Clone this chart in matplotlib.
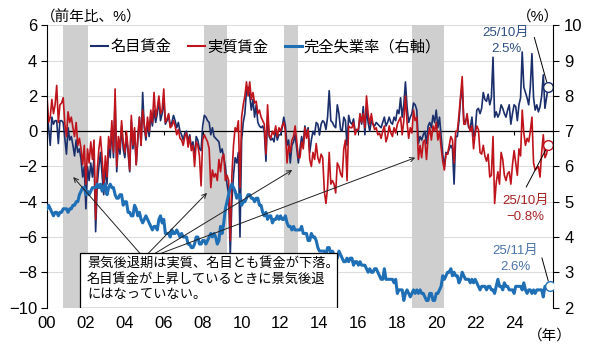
import numpy as np
import matplotlib
matplotlib.use("Agg")
import matplotlib.pyplot as plt
from matplotlib.lines import Line2D
from matplotlib.patches import Rectangle

plt.rcParams["font.family"] = ["Liberation Sans", "Noto Sans CJK JP"]

# monthly, Jan 2000 - Oct 2025 (y/y %)
nominal = [
    1.5, 0.2, -0.8, 0.8, 0.4, 0.6, 0.6, -0.7, 0.6, 0.6, 0.5, -0.4,      # 2000
    -1.3, 0.2, -0.5, -0.3, -0.8, -1.4, -0.5, -1.2, -1.0, -1.6, -2.6, -2.0,  # 2001
    -4.4, -2.0, -2.8, -1.8, -2.6, -1.5, -5.7, -3.0, -2.0, -1.2, -2.5, -3.6,  # 2002
    -2.0, -3.0, -0.8, -1.5, 0.2, -1.5, 1.8, -2.3, -0.6, -1.3, 0.3, -1.0,   # 2003
    -1.5, -0.3, -1.2, -2.3, 0.6, -1.0, 0.0, -1.9, -0.5, 0.8, -0.8, 2.2,    # 2004
    0.2, -0.5, 0.5, -0.3, 0.9, 0.3, 1.2, 0.5, 1.0, 1.8, 0.6, 1.0,          # 2005
    1.8, 0.4, 0.6, 0.9, 0.3, 0.5, 0.9, 0.6, 0.2, 0.5, 0.0, -0.2,           # 2006
    -0.5, -0.1, 0.0, -0.6, -0.2, -0.9, -0.6, -1.5, -0.3, -0.5, -1.0, -1.1,  # 2007
    0.3, 0.9, 0.8, 0.6, 0.5, -0.2, 0.2, -0.3, -0.4, -0.5, -0.6, -1.2,      # 2008
    -1.0, -1.5, -2.0, -3.0, -3.6, -7.0, -4.0, -2.5, -1.5, -1.8, -1.2, -6.0,  # 2009
    -0.5, 0.5, 1.0, 2.3, 2.5, 2.0, 1.2, 1.8, 0.8, 1.5, 0.5, 0.3,           # 2010
    0.2, 0.3, 0.0, -1.7, 0.8, -0.3, -0.5, -0.4, -0.6, 0.1, -0.5, -0.2,     # 2011
    -0.2, 0.2, 0.8, 0.3, -0.8, -0.5, -1.8, -0.8, -0.6, -0.2, -1.0, -1.8,   # 2012
    -1.0, -0.3, -0.8, 0.3, -0.2, 0.2, -1.2, -0.5, 0.0, -0.2, 0.5, 0.4,     # 2013
    -0.2, 0.4, 0.6, 0.5, 0.1, 0.8, 2.3, 0.6, 0.5, 0.3, 0.2, 1.5,           # 2014
    1.0, 0.1, 0.0, 0.8, 0.6, -0.8, 0.9, 0.5, 0.4, 0.7, 0.0, 0.1,           # 2015
    0.0, 0.9, 0.4, 1.4, -0.2, 1.3, 0.5, 0.0, 0.6, 0.4, 0.3, 0.5,           # 2016
    0.4, 0.3, 0.2, 0.5, 0.8, 0.3, 0.5, 0.8, 0.5, 0.4, 0.8, 0.6,            # 2017
    1.2, 1.0, 1.9, 0.8, 1.5, 2.8, 1.4, 0.5, 0.8, 1.0, 1.6, 1.5,            # 2018
    1.2, -0.7, -0.3, -0.5, -0.2, 0.0, -0.7, 0.3, 0.5, 0.2, 0.9, 0.5,       # 2019
    1.2, 0.2, 0.8, -0.3, -1.3, -2.0, -1.2, -1.3, -1.0, -0.8, -1.0, -3.0,   # 2020
    -0.3, -0.3, 0.6, 1.8, 2.6, 0.5, 0.6, 0.8, 0.2, 0.2, 0.8, -0.3,         # 2021
    0.0, 1.2, 1.3, 1.0, 1.3, 2.2, 1.8, 1.7, 2.1, 1.5, 1.9, 4.2,            # 2022
    0.8, 1.1, 0.8, 1.0, 1.5, 1.3, 1.0, 0.8, 1.2, 1.5, 0.4, 1.0,            # 2023
    1.5, 1.4, 0.6, 1.5, 1.9, 4.5, 2.5, 2.2, 1.9, 1.5, 2.5, 4.4,            # 2024
    1.9, 1.2, 1.5, 1.1, 1.4, 2.0, 3.2, 1.3, 1.9, 2.5,                      # 2025
]
real = [
    2.0, 0.5, 0.8, 1.8, 1.0, 1.5, 2.6, 0.5, 1.5, 1.6, 1.9, 0.4,            # 2000
    -0.3, 1.1, 0.5, 0.8, 0.2, -0.3, 0.5, -0.8, -0.4, -1.0, -1.9, -0.8,     # 2001
    -3.0, -1.0, -1.8, -0.6, -1.6, -0.5, -5.0, -2.2, -1.0, -0.3, -1.5, -3.0,  # 2002
    -1.4, -2.6, -0.3, -1.0, 0.6, -1.2, 2.4, -2.0, -0.3, -1.0, 0.6, -0.6,   # 2003
    -1.2, 0.0, -1.0, -2.2, 0.9, -0.8, 0.2, -1.9, -0.3, 0.8, -0.8, 1.2,     # 2004
    0.4, -0.3, 0.8, 0.0, 1.2, 0.5, 2.2, 0.8, 1.3, 2.0, 1.0, 1.2,           # 2005
    2.4, 0.5, 0.7, 1.0, 0.2, 0.3, 0.6, 0.3, -0.2, 0.1, -0.4, -0.5,         # 2006
    -0.8, -0.3, -0.1, -0.9, -0.3, -1.1, -0.8, -2.0, -0.6, -0.8, -1.4, -3.1,  # 2007
    -0.5, -0.2, -0.4, -0.6, -1.0, -3.2, -2.2, -2.6, -2.4, -2.8, -1.6, -2.3,  # 2008
    -1.5, -1.3, -2.8, -2.5, -2.8, -6.2, -2.5, -0.8, 0.2, 0.0, 0.6, -3.2,   # 2009
    0.8, 1.5, 2.0, 2.8, 2.0, 2.8, 1.8, 2.2, 1.6, 1.7, 1.0, 1.2,            # 2010
    0.8, 0.6, 0.4, -1.3, 1.5, -0.2, -0.4, 0.0, -0.2, 0.3, -0.3, 0.2,       # 2011
    0.0, 0.3, 0.5, 0.0, -1.8, -0.8, -1.2, -0.5, -0.3, 0.3, -0.6, -1.5,     # 2012
    -1.5, -0.6, -1.0, 0.2, -0.4, 0.1, -1.6, -2.0, -1.2, -1.6, -0.7, -1.5,  # 2013
    -1.8, -1.3, -1.5, -3.4, -4.1, -3.2, -1.2, -3.0, -2.8, -3.0, -3.5, -1.8,  # 2014
    -2.0, -2.4, -2.6, -1.0, -0.5, -2.8, 0.3, 0.2, 0.2, 0.5, -0.2, 0.1,     # 2015
    0.1, 1.0, 0.5, 1.0, 0.2, 2.0, 1.0, 0.4, 1.0, 0.4, 0.1, 0.2,            # 2016
    -0.2, -0.1, -0.4, 0.0, 0.3, -0.6, -0.3, 0.3, -0.1, -0.3, 0.2, -0.1,    # 2017
    0.4, 0.6, 0.8, -0.2, 0.6, 2.0, 0.5, -0.4, 0.2, -0.1, 1.2, 0.6,         # 2018
    0.8, -1.6, -0.8, -1.5, -0.6, -0.5, -1.6, -0.3, 0.2, -0.5, 0.3, 0.0,    # 2019
    0.5, -0.5, 0.0, -0.9, -1.7, -2.2, -1.3, -1.3, -0.8, -0.3, -0.5, -1.8,  # 2020
    0.0, 0.0, 0.9, 2.0, 3.1, 0.4, 0.4, 1.0, 0.3, 0.0, 0.3, -1.0,           # 2021
    -0.1, 0.3, 0.1, -1.2, -1.3, -0.8, -1.4, -1.7, -1.3, -2.6, -2.5, -0.3,  # 2022
    -4.1, -2.9, -2.3, -3.0, -1.2, -1.6, -2.5, -2.8, -2.4, -2.3, -3.0, -1.9,  # 2023
    -1.1, -1.8, -2.5, -1.0, -1.4, 1.2, -0.1, -0.8, -0.4, -0.6, 0.0, 0.8,   # 2024
    -1.8, -2.2, -2.1, -2.0, -2.6, -1.2, -0.2, -1.5, -1.3, -0.8,            # 2025
]
# monthly, Jan 2000 - Nov 2025 (%)
unemp = [
    4.8, 4.9, 4.8, 4.7, 4.6, 4.7, 4.7, 4.6, 4.7, 4.7, 4.8, 4.8,
    4.8, 4.7, 4.8, 4.8, 4.9, 4.9, 5.0, 5.0, 5.2, 5.3, 5.4, 5.4,
    5.2, 5.3, 5.2, 5.3, 5.4, 5.4, 5.4, 5.5, 5.4, 5.5, 5.3, 5.4,
    5.5, 5.2, 5.4, 5.5, 5.4, 5.4, 5.2, 5.1, 5.1, 5.2, 5.2, 4.9,
    5.0, 5.0, 4.7, 4.7, 4.6, 4.6, 4.9, 4.8, 4.6, 4.7, 4.5, 4.4,
    4.5, 4.6, 4.5, 4.4, 4.3, 4.2, 4.3, 4.3, 4.2, 4.5, 4.6, 4.4,
    4.5, 4.1, 4.1, 4.1, 4.0, 4.2, 4.1, 4.1, 4.2, 4.1, 4.0, 4.1,
    4.0, 4.0, 4.0, 3.8, 3.8, 3.7, 3.7, 3.8, 4.0, 4.0, 3.8, 3.8,
    3.9, 3.9, 3.8, 3.9, 4.0, 4.1, 4.0, 4.1, 4.0, 3.8, 3.9, 4.3,
    4.1, 4.4, 4.8, 5.0, 5.2, 5.4, 5.5, 5.4, 5.3, 5.1, 5.2, 5.2,
    4.9, 5.0, 5.0, 5.1, 5.2, 5.2, 5.1, 5.1, 5.0, 5.1, 5.1, 4.9,
    4.9, 4.7, 4.6, 4.7, 4.5, 4.6, 4.6, 4.4, 4.5, 4.5, 4.6, 4.5,
    4.6, 4.5, 4.5, 4.6, 4.4, 4.3, 4.3, 4.2, 4.3, 4.2, 4.2, 4.2,
    4.2, 4.3, 4.1, 4.1, 4.1, 3.9, 3.9, 4.1, 4.0, 4.0, 3.9, 3.7,
    3.6, 3.6, 3.6, 3.6, 3.5, 3.7, 3.7, 3.5, 3.6, 3.5, 3.5, 3.4,
    3.6, 3.5, 3.4, 3.3, 3.3, 3.4, 3.3, 3.4, 3.4, 3.2, 3.3, 3.3,
    3.2, 3.3, 3.2, 3.2, 3.2, 3.1, 3.0, 3.1, 3.0, 3.0, 3.1, 3.1,
    3.0, 2.9, 2.8, 2.8, 3.1, 2.8, 2.8, 2.8, 2.8, 2.8, 2.7, 2.8,
    2.4, 2.5, 2.5, 2.5, 2.2, 2.4, 2.5, 2.4, 2.3, 2.4, 2.5, 2.4,
    2.5, 2.4, 2.5, 2.4, 2.4, 2.3, 2.2, 2.2, 2.4, 2.4, 2.2, 2.2,
    2.4, 2.4, 2.5, 2.6, 2.9, 2.8, 2.9, 3.0, 3.0, 3.1, 2.9, 3.0,
    2.9, 2.9, 2.7, 2.8, 3.0, 2.9, 2.8, 2.8, 2.8, 2.7, 2.8, 2.7,
    2.8, 2.7, 2.6, 2.5, 2.6, 2.6, 2.6, 2.5, 2.6, 2.6, 2.5, 2.5,
    2.4, 2.6, 2.8, 2.6, 2.6, 2.5, 2.7, 2.6, 2.6, 2.5, 2.5, 2.5,
    2.4, 2.6, 2.6, 2.6, 2.6, 2.5, 2.7, 2.5, 2.4, 2.5, 2.5, 2.4,
    2.5, 2.4, 2.5, 2.5, 2.5, 2.5, 2.3, 2.6, 2.6, 2.6, 2.6,
]
# recession periods (start, end) in years
recessions = [(2000 + 10/12, 2002 + 1/12), (2008 + 1/12, 2009 + 3/12),
              (2012 + 2/12, 2012 + 11/12), (2018 + 9/12, 2020 + 5/12)]
year_ticks = list(range(2000, 2025, 2))
year_labels = [f"{y % 100:02d}" for y in year_ticks]

t_wage = 2000 + np.arange(len(nominal)) / 12
t_unemp = 2000 + np.arange(len(unemp)) / 12

NAVY = "#1a2f6b"
RED = "#c0141c"
BLUE = "#1f6fb6"

fig = plt.figure(figsize=(6, 3.52), dpi=100)
ax = fig.add_axes([0.0783, 0.1264, 0.8434, 0.8012])
ax2 = ax.twinx()

for a, b in recessions:
    ax.axvspan(a, b, color="#cfcfcf", lw=0, zorder=1)
ax.set_axisbelow(True)
ax.yaxis.grid(True, color="#dcdcdc", lw=0.8)
ax.axhline(0, color="black", lw=0.9, zorder=1.5)

ax.plot(t_wage, nominal, color=NAVY, lw=1.2, zorder=2)
ax.plot(t_wage, real, color=RED, lw=1.2, zorder=2.1)
ax.plot(t_wage[-1], nominal[-1], "o", ms=7, mfc="white", mec=NAVY, mew=1.0, zorder=5)
ax.plot(t_wage[-1], real[-1], "o", ms=7, mfc="white", mec=RED, mew=1.0, zorder=5)

ax2.plot(t_unemp, unemp, color=BLUE, lw=2.2, zorder=3)
ax2.plot(t_unemp[-1], unemp[-1], "o", ms=7, mfc="white", mec=BLUE, mew=1.0, zorder=5)

ax.set_xlim(2000, 2026)
ax.set_ylim(-10, 6)
ax2.set_ylim(2, 10)
ax.set_yticks(range(-10, 7, 2))
ax2.set_yticks(range(2, 11))
ax.set_xticks(year_ticks)
ax.set_xticklabels(year_labels)
ax.tick_params(axis="x", length=0, pad=6, labelsize=12)
ax.tick_params(axis="y", length=4, width=0.8, pad=3, labelsize=12)
ax2.tick_params(axis="y", length=4, width=0.8, pad=4, labelsize=12)

for s in ["top", "bottom", "right"]:
    ax.spines[s].set_visible(False)
for s in ["top", "bottom", "left"]:
    ax2.spines[s].set_visible(False)
ax.spines["left"].set_linewidth(0.8)
ax2.spines["right"].set_linewidth(0.8)

# small ticks sitting on the zero line
sec = ax.secondary_xaxis(10 / 16)
sec.set_xticks(year_ticks)
sec.tick_params(axis="x", direction="in", length=3, width=0.8, labelbottom=False, labeltop=False)
sec.spines["bottom"].set_visible(False)
sec.spines["top"].set_visible(False)

handles = [Line2D([], [], color=NAVY, lw=1.5), Line2D([], [], color=RED, lw=1.5),
           Line2D([], [], color=BLUE, lw=2.2)]
ax2.legend(handles, ["名目賃金", "実質賃金", "完全失業率（右軸）"], loc="center left",
           bbox_to_anchor=(0.075, 0.924), ncol=3, frameon=False, fontsize=11,
           handlelength=1.1, handletextpad=0.15, columnspacing=1.1, borderaxespad=0)

ax.text(-0.012, 1.03, "（前年比、%）", transform=ax.transAxes, ha="left", va="center", fontsize=10.5)
ax.text(1.012, 1.03, "（%）", transform=ax.transAxes, ha="right", va="center", fontsize=10.5)
ax.text(0.994, -0.098, "（年）", transform=ax.transAxes, ha="center", va="center", fontsize=10.5)

# end-point labels
ax2.text(0.907, 0.945, "25/10月\n2.5%", transform=ax.transAxes, ha="center", va="center",
         fontsize=9.5, color="#2e4f85", linespacing=1.45, zorder=6)
ax2.annotate("", xy=(t_wage[-1], nominal[-1]), xycoords=ax.transData,
             xytext=(0.963, 0.958), textcoords=ax.transAxes,
             arrowprops=dict(arrowstyle="-", color="black", lw=0.7, shrinkA=0, shrinkB=4))
ax2.text(0.945, 0.349, "25/10月\n−0.8%", transform=ax.transAxes, ha="center", va="center",
         fontsize=9.5, color="#a82323", linespacing=1.45, zorder=6)
ax2.annotate("", xy=(t_wage[-1], real[-1]), xycoords=ax.transData,
             xytext=(0.947, 0.427), textcoords=ax.transAxes,
             arrowprops=dict(arrowstyle="-", color="black", lw=0.7, shrinkA=0, shrinkB=4))
ax2.text(0.925, 0.172, "25/11月\n2.6%", transform=ax.transAxes, ha="center", va="center",
         fontsize=9.5, color="#4a74a8", linespacing=1.45, zorder=6)
ax2.annotate("", xy=(t_unemp[-1], unemp[-1]), xycoords="data",
             xytext=(0.978, 0.176), textcoords=ax.transAxes,
             arrowprops=dict(arrowstyle="-", color="black", lw=0.7, shrinkA=0, shrinkB=4))

# note box with arrows to recession periods
ax2.add_patch(Rectangle((0.0652, 0.0), 0.508, 0.193, transform=ax.transAxes,
                        facecolor="white", edgecolor="black", lw=0.9, zorder=7))
ax2.text(0.079, 0.178, "景気後退期は実質、名目とも賃金が下落。\n名目賃金が上昇しているときに景気後退\nにはなっていない。",
         transform=ax.transAxes, ha="left", va="top", fontsize=9.5, linespacing=1.3, zorder=8)
arrow_targets = [(2001.35, -2.6), (2008.22, -3.5), (2012.6, -2.2), (2018.92, -1.5)]
arrow_starts = [2004.78, 2005.2, 2005.55, 2005.85]
for (xt, yt), xs in zip(arrow_targets, arrow_starts):
    ax2.annotate("", xy=(xt, yt), xycoords=ax.transData, xytext=(xs, -6.93),
                 textcoords=ax.transData,
                 arrowprops=dict(arrowstyle="->", color="#222222", lw=0.7,
                                 shrinkA=0, shrinkB=0, mutation_scale=8), zorder=6)

fig.savefig("out.png", dpi=100)
